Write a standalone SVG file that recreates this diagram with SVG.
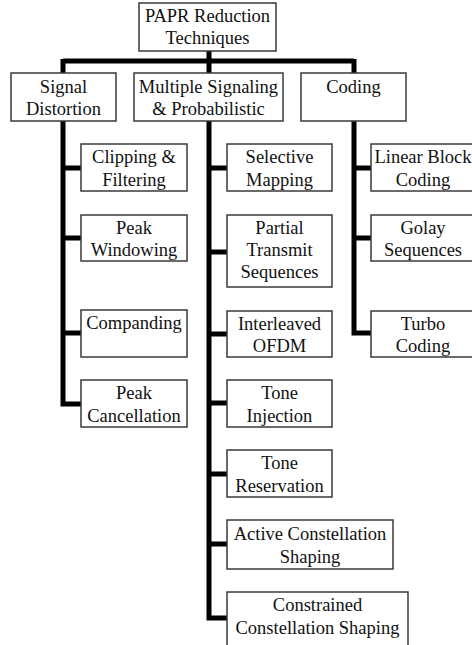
<svg xmlns="http://www.w3.org/2000/svg" width="472" height="645" viewBox="0 0 472 645">
<style>
.box{fill:#fff;stroke:#3a3a3a;stroke-width:1.5}
.t{font-size:18.5px;fill:#111;text-anchor:middle}
.c{fill:none;stroke:#000;stroke-width:5;stroke-linejoin:miter;stroke-linecap:butt}
</style>
<rect width="472" height="645" fill="#fff"/>
<g id="connectors">
<path class="c" d="M209 51V61M63 61H354M63 59V73M209 61V73M354 59V73"/>
<path class="c" d="M63 121V404H81M63 168H81M63 238H81M63 333H81"/>
<path class="c" d="M209 121V618H227M209 168H227M209 252H227M209 334H227M209 403H227M209 474H227M209 544H227"/>
<path class="c" d="M354 121V333H371M354 168H371M354 238H371"/>
</g>
<g font-family="Liberation Serif, Tinos, DejaVu Serif, serif">
<g id="root"><rect class="box" x="139" y="3" width="137" height="48"/><text class="t" x="207.5" y="22">PAPR Reduction</text><text class="t" x="207.5" y="44">Techniques</text></g>
<g id="signal-distortion"><rect class="box" x="11" y="73" width="105" height="48"/><text class="t" x="63.5" y="93">Signal</text><text class="t" x="63.5" y="115">Distortion</text></g>
<g id="multiple-signaling"><rect class="box" x="134" y="73" width="149" height="48"/><text class="t" x="208.5" y="93">Multiple Signaling</text><text class="t" x="208.5" y="115">&amp; Probabilistic</text></g>
<g id="coding"><rect class="box" x="301" y="73" width="105" height="48"/><text class="t" x="353.5" y="93">Coding</text></g>
<g id="clipping"><rect class="box" x="81" y="144" width="106" height="47"/><text class="t" x="134" y="163">Clipping &amp;</text><text class="t" x="134" y="186">Filtering</text></g>
<g id="peak-windowing"><rect class="box" x="81" y="215" width="106" height="46"/><text class="t" x="134" y="234">Peak</text><text class="t" x="134" y="256">Windowing</text></g>
<g id="companding"><rect class="box" x="81" y="310" width="106" height="47"/><text class="t" x="134" y="329">Companding</text></g>
<g id="peak-cancellation"><rect class="box" x="81" y="380" width="106" height="47"/><text class="t" x="134" y="399">Peak</text><text class="t" x="134" y="422">Cancellation</text></g>
<g id="selective-mapping"><rect class="box" x="227" y="144" width="105" height="47"/><text class="t" x="279.5" y="163">Selective</text><text class="t" x="279.5" y="186">Mapping</text></g>
<g id="pts"><rect class="box" x="227" y="215" width="105" height="72"/><text class="t" x="279.5" y="234">Partial</text><text class="t" x="279.5" y="256">Transmit</text><text class="t" x="279.5" y="278">Sequences</text></g>
<g id="interleaved"><rect class="box" x="227" y="311" width="105" height="46"/><text class="t" x="279.5" y="330">Interleaved</text><text class="t" x="279.5" y="352">OFDM</text></g>
<g id="tone-injection"><rect class="box" x="227" y="380" width="105" height="47"/><text class="t" x="279.5" y="399">Tone</text><text class="t" x="279.5" y="422">Injection</text></g>
<g id="tone-reservation"><rect class="box" x="227" y="450" width="105" height="47"/><text class="t" x="279.5" y="469">Tone</text><text class="t" x="279.5" y="492">Reservation</text></g>
<g id="active-constellation"><rect class="box" x="227" y="520" width="166" height="49"/><text class="t" x="310" y="540">Active Constellation</text><text class="t" x="310" y="563">Shaping</text></g>
<g id="constrained-constellation"><rect class="box" x="227" y="592" width="181" height="58"/><text class="t" x="317.5" y="611">Constrained</text><text class="t" x="317.5" y="634">Constellation Shaping</text></g>
<g id="linear-block"><rect class="box" x="371" y="144" width="106" height="47"/><text class="t" x="423" y="163">Linear Block</text><text class="t" x="423" y="186">Coding</text></g>
<g id="golay"><rect class="box" x="371" y="215" width="106" height="46"/><text class="t" x="423" y="234">Golay</text><text class="t" x="423" y="256">Sequences</text></g>
<g id="turbo"><rect class="box" x="371" y="311" width="106" height="46"/><text class="t" x="423" y="330">Turbo</text><text class="t" x="423" y="352">Coding</text></g>
</g>
</svg>
